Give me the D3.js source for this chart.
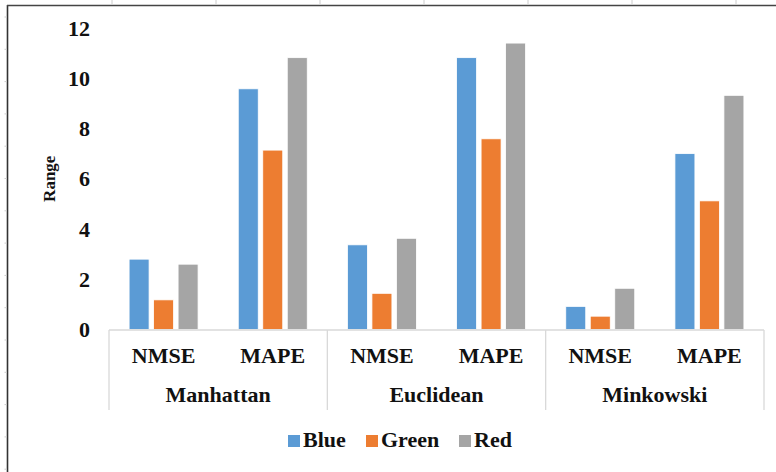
<!DOCTYPE html>
<html>
<head>
<meta charset="utf-8">
<script src="https://cdn.jsdelivr.net/npm/d3@7"></script>
<style>
  html, body { margin: 0; padding: 0; background: #fff; }
  svg { display: block; }
  svg text { font-family: "Times New Roman", "Liberation Serif", "DejaVu Serif", serif; font-weight: bold; fill: #111; }
</style>
</head>
<body>
<svg id="chart" width="776" height="472"></svg>
<script>
// ---- data ----
const groups = ["Manhattan", "Euclidean", "Minkowski"];
const metrics = ["NMSE", "MAPE"];
const seriesNames = ["Blue", "Green", "Red"];
const seriesColors = ["#5B9BD5", "#ED7D31", "#A5A5A5"];
// values per group, in order [NMSE, MAPE]
const blueValues  = [[2.80, 9.58], [3.37, 10.82], [0.92, 7.00]];
const greenValues = [[1.18, 7.14], [1.44, 7.59], [0.53, 5.12]];
const redValues   = [[2.60, 10.82], [3.63, 11.40], [1.64, 9.32]];
const yTicks = [0, 2, 4, 6, 8, 10, 12];
const yLabel = "Range";

const seriesValues = [blueValues, greenValues, redValues];
const FONT = "Liberation Serif, Times New Roman, serif";

const svg = d3.select("#chart");

// ---- frame (cropped border of the surrounding figure) ----
svg.append("line").attr("x1", 7.5).attr("x2", 7.5).attr("y1", 5).attr("y2", 472)
  .attr("stroke", "#333").attr("stroke-width", 1.6);
svg.append("line").attr("x1", 7).attr("x2", 776).attr("y1", 5.5).attr("y2", 5.5)
  .attr("stroke", "#444").attr("stroke-width", 1.6);
d3.range(112, 776, 104).forEach(x => {
  svg.append("line").attr("x1", x).attr("x2", x).attr("y1", 0).attr("y2", 4)
    .attr("stroke", "#ccc").attr("stroke-width", 1);
});
d3.range(340, 0, -32.3).forEach(y => {
  svg.append("line").attr("x1", 4.5).attr("x2", 7).attr("y1", y).attr("y2", y)
    .attr("stroke", "#ccc").attr("stroke-width", 1);
});
d3.range(372.3, 472, 32.3).forEach(y => {
  svg.append("line").attr("x1", 4.5).attr("x2", 7).attr("y1", y).attr("y2", y)
    .attr("stroke", "#ccc").attr("stroke-width", 1);
});

// ---- scales ----
const plotLeft = 109, plotRight = 764, baseY = 329.5, topY = 28;
const y = d3.scaleLinear().domain([0, 12]).range([baseY, topY]);
const xGroup = d3.scaleBand().domain(groups).range([plotLeft, plotRight]).padding(0);
const xMetric = d3.scaleBand().domain(metrics).range([0, xGroup.bandwidth()]).padding(0);
const xSeries = d3.scaleBand().domain(seriesNames).range([0, xMetric.bandwidth()])
  .paddingInner(0.184).paddingOuter(0.82);

function styleText(sel, size) {
  return sel.attr("font-family", FONT).attr("font-weight", "bold")
    .attr("font-size", size).attr("fill", "#111");
}

// ---- y tick labels ----
styleText(svg.append("g").selectAll("text").data(yTicks).join("text")
  .attr("x", 90).attr("y", d => y(d))
  .attr("text-anchor", "end").attr("dominant-baseline", "central")
  .text(d => d), 22);

styleText(svg.append("text")
  .attr("transform", `translate(49,${(y(0) + y(12)) / 2}) rotate(-90)`)
  .attr("text-anchor", "middle").attr("dominant-baseline", "central")
  .text(yLabel), 17);

// ---- bars ----
const barData = [];
groups.forEach((g, gi) => {
  metrics.forEach((m, mi) => {
    seriesNames.forEach((s, si) => {
      barData.push({ g, m, s, si, v: seriesValues[si][gi][mi] });
    });
  });
});
svg.append("g").selectAll("rect").data(barData).join("rect")
  .attr("x", d => xGroup(d.g) + xMetric(d.m) + xSeries(d.s))
  .attr("width", xSeries.bandwidth())
  .attr("y", d => y(d.v))
  .attr("height", d => y(0) - y(d.v))
  .attr("fill", d => seriesColors[d.si])
  .attr("stroke", "#fff").attr("stroke-width", 0.8);

// ---- category axis ----
const axisColor = "#d9d9d9";
svg.append("line").attr("x1", plotLeft).attr("x2", plotRight)
  .attr("y1", 330).attr("y2", 330).attr("stroke", axisColor).attr("stroke-width", 1.3);
const seps = groups.map(g => xGroup(g)).concat([plotRight]);
svg.append("g").selectAll("line").data(seps).join("line")
  .attr("x1", d => d).attr("x2", d => d).attr("y1", 330).attr("y2", 410)
  .attr("stroke", axisColor).attr("stroke-width", 1.3);

const metricLabels = [];
groups.forEach(g => metrics.forEach(m => metricLabels.push({ g, m })));
styleText(svg.append("g").selectAll("text").data(metricLabels).join("text")
  .attr("x", d => xGroup(d.g) + xMetric(d.m) + xMetric.bandwidth() / 2)
  .attr("y", 363)
  .attr("text-anchor", "middle")
  .text(d => d.m), 22);

styleText(svg.append("g").selectAll("text").data(groups).join("text")
  .attr("x", d => xGroup(d) + xGroup.bandwidth() / 2)
  .attr("y", 402)
  .attr("text-anchor", "middle")
  .text(d => d), 22);

// ---- legend ----
const legendX = [288, 366, 459];
const legend = svg.append("g").selectAll("g").data(seriesNames).join("g")
  .attr("transform", (d, i) => `translate(${legendX[i]},0)`);
legend.append("rect").attr("x", 0).attr("y", 435).attr("width", 12).attr("height", 12)
  .attr("fill", (d, i) => seriesColors[i]);
styleText(legend.append("text").attr("x", 15).attr("y", 447)
  .text(d => d), 22);
</script>
</body>
</html>
